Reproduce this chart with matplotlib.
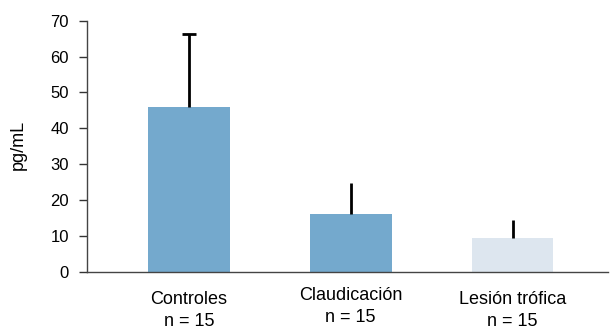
import matplotlib
matplotlib.use("Agg")
import matplotlib.pyplot as plt
from matplotlib.transforms import blended_transform_factory

plt.rcParams['font.family'] = ['Liberation Sans', 'DejaVu Sans']

categories = ["Controles", "Claudicación", "Lesión trófica"]
group_n = ["n = 15", "n = 15", "n = 15"]
means = [45.9, 16.1, 9.4]
upper_sd = [20.4, 8.5, 5.0]
bar_colors = ["#74a9cd", "#74a9cd", "#dde6ef"]
show_cap = [True, False, False]
label_offsets = [0.0, 4.5, 0.0]  # px shift upward for each category label

W, H = 611, 329
fig = plt.figure(figsize=(W / 100, H / 100), dpi=100)
ax = fig.add_axes([87 / W, 1 - 271.7 / H, (608 - 87) / W, (271.7 - 20.7) / H])

x = list(range(len(categories)))
bar_w = 0.506
ax.bar(x, means, width=bar_w, color=bar_colors, zorder=2)

# upper error whiskers, with a cap on the control group only
ax.vlines(x, means, [m + e for m, e in zip(means, upper_sd)],
          colors='black', linewidth=2.0, zorder=3)
cap_half = 0.043
for xi, m, e, cap in zip(x, means, upper_sd, show_cap):
    if cap:
        ax.hlines(m + e, xi - cap_half, xi + cap_half, colors='black',
                  linewidth=2.0, zorder=3)

ax.set_xlim(-0.63, 2.59)
ax.set_ylim(0, 70)
ax.set_yticks(range(0, 71, 10))
ax.tick_params(axis='y', direction='out', length=6, width=1, labelsize=12,
               pad=7, color='#333333')
ax.set_xticks([])
for s in ['top', 'right']:
    ax.spines[s].set_visible(False)
for s in ['left', 'bottom']:
    ax.spines[s].set_color('#444444')
    ax.spines[s].set_linewidth(1.0)
ax.set_ylabel("pg/mL", fontsize=13)
ax.yaxis.set_label_coords((18 - 87) / (608 - 87), (271.7 - 145) / (271.7 - 20.7))
ax.yaxis.label.set_va('center')

trans = blended_transform_factory(ax.transData, fig.transFigure)
for xi, cat, n, off in zip(x, categories, group_n, label_offsets):
    ax.text(xi, 1 - (300 - off) / H, cat, transform=trans, ha='center',
            va='center', fontsize=13)
    ax.text(xi, 1 - (322 - off) / H, n, transform=trans, ha='center',
            va='center', fontsize=13)

fig.savefig("out.png", dpi=100)
